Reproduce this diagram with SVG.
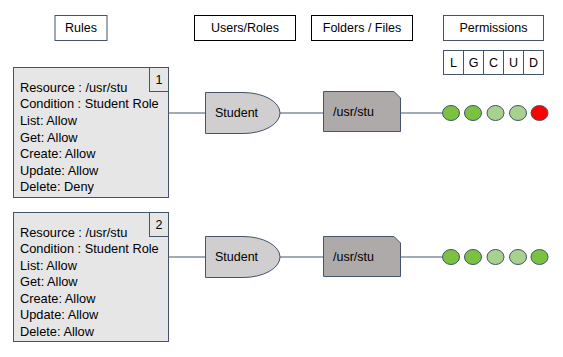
<svg xmlns="http://www.w3.org/2000/svg" width="563" height="357" viewBox="0 0 563 357">
  <style>
    text { font-family: "Liberation Sans", Arial, sans-serif; fill: #000; }
    .hdr { fill: #fff; stroke-width: 1; }
    .hdr-blue { stroke: #44546A; }
    .hdr-black { stroke: #000; }
    .hdr-text { font-size: 12.5px; text-anchor: middle; }
    .rule { fill: #E7E6E6; stroke: #44546A; stroke-width: 1; }
    .rule-text { font-size: 12.8px; }
    .num { fill: #E7E6E6; stroke: #44546A; stroke-width: 1; }
    .num-text { font-size: 12.5px; text-anchor: middle; }
    .role { fill: #D0CECE; stroke: #44546A; stroke-width: 1; }
    .file { fill: #AEAAAA; stroke: #44546A; stroke-width: 1; }
    .node-text { font-size: 12.5px; }
    .conn { stroke: #44546A; stroke-width: 1; fill: none; }
    .dot { stroke: #44546A; stroke-width: 1; }
    .on { fill: #7CC242; }
    .mid { fill: #A9D18E; }
    .off { fill: #FF0000; }
  </style>

  <!-- column headers -->
  <g id="hdr-rules">
    <rect class="hdr hdr-blue" x="55" y="15.5" width="52" height="25"/>
    <text class="hdr-text" x="81" y="32">Rules</text>
  </g>
  <g id="hdr-users">
    <rect class="hdr hdr-black" x="194.5" y="15.5" width="101" height="25"/>
    <text class="hdr-text" x="245" y="32">Users/Roles</text>
  </g>
  <g id="hdr-folders">
    <rect class="hdr hdr-black" x="311.5" y="15.5" width="101" height="25"/>
    <text class="hdr-text" x="362" y="32">Folders / Files</text>
  </g>
  <g id="hdr-permissions">
    <rect class="hdr hdr-blue" x="443.5" y="15.5" width="100" height="25"/>
    <text class="hdr-text" x="493.5" y="32">Permissions</text>
  </g>
  <g id="hdr-lgcud">
    <rect class="hdr hdr-blue" x="443.5" y="50.5" width="20" height="24"/>
    <rect class="hdr hdr-blue" x="463.5" y="50.5" width="20" height="24"/>
    <rect class="hdr hdr-blue" x="483.5" y="50.5" width="20" height="24"/>
    <rect class="hdr hdr-blue" x="503.5" y="50.5" width="20" height="24"/>
    <rect class="hdr hdr-blue" x="523.5" y="50.5" width="20" height="24"/>
    <text class="hdr-text" x="453.5" y="67">L</text>
    <text class="hdr-text" x="473.5" y="67">G</text>
    <text class="hdr-text" x="493.5" y="67">C</text>
    <text class="hdr-text" x="513.5" y="67">U</text>
    <text class="hdr-text" x="533.5" y="67">D</text>
  </g>

  <!-- connectors -->
  <g id="connectors">
    <line class="conn" x1="168" y1="113" x2="205" y2="113"/>
    <line class="conn" x1="280" y1="113" x2="323" y2="113"/>
    <line class="conn" x1="400" y1="113" x2="442" y2="113"/>
    <line class="conn" x1="168" y1="257" x2="205" y2="257"/>
    <line class="conn" x1="280" y1="257" x2="323" y2="257"/>
    <line class="conn" x1="400" y1="257" x2="442" y2="257"/>
  </g>

  <!-- rule 1 -->
  <g id="rule-1">
    <rect class="rule" x="13.5" y="67.5" width="155" height="130"/>
    <rect class="num" x="149.5" y="67.5" width="19" height="24"/>
    <text class="num-text" x="159" y="84">1</text>
    <text class="rule-text" x="20" y="92">Resource : /usr/stu</text>
    <text class="rule-text" x="20" y="108">Condition : Student Role</text>
    <text class="rule-text" x="20" y="125">List: Allow</text>
    <text class="rule-text" x="20" y="142">Get: Allow</text>
    <text class="rule-text" x="20" y="158">Create: Allow</text>
    <text class="rule-text" x="20" y="175">Update: Allow</text>
    <text class="rule-text" x="20" y="191">Delete: Deny</text>
  </g>
  <g id="role-1">
    <path class="role" d="M205.5,92.5 H243 A37,20.5 0 0 1 243,133.5 H205.5 Z"/>
    <text class="node-text" x="215" y="117">Student</text>
  </g>
  <g id="file-1">
    <path class="file" d="M323.5,91.5 H394 L400.5,98 V131.5 H323.5 Z"/>
    <text class="node-text" x="333" y="116">/usr/stu</text>
  </g>
  <g id="perms-1">
    <ellipse class="dot on" cx="451" cy="113" rx="8.5" ry="7.5"/>
    <ellipse class="dot on" cx="473" cy="113" rx="8.5" ry="7.5"/>
    <ellipse class="dot mid" cx="495.5" cy="113" rx="8.5" ry="7.5"/>
    <ellipse class="dot mid" cx="518" cy="113" rx="8.5" ry="7.5"/>
    <ellipse class="dot off" cx="539.5" cy="113" rx="8.5" ry="7.5"/>
  </g>

  <!-- rule 2 -->
  <g id="rule-2">
    <rect class="rule" x="13.5" y="212.5" width="155" height="129"/>
    <rect class="num" x="149.5" y="212.5" width="19" height="24"/>
    <text class="num-text" x="159" y="229">2</text>
    <text class="rule-text" x="20" y="237">Resource : /usr/stu</text>
    <text class="rule-text" x="20" y="253">Condition : Student Role</text>
    <text class="rule-text" x="20" y="270">List: Allow</text>
    <text class="rule-text" x="20" y="286">Get: Allow</text>
    <text class="rule-text" x="20" y="303">Create: Allow</text>
    <text class="rule-text" x="20" y="319">Update: Allow</text>
    <text class="rule-text" x="20" y="336">Delete: Allow</text>
  </g>
  <g id="role-2">
    <path class="role" d="M205.5,236.5 H243 A37,20.5 0 0 1 243,277.5 H205.5 Z"/>
    <text class="node-text" x="215" y="261">Student</text>
  </g>
  <g id="file-2">
    <path class="file" d="M323.5,236.5 H394 L400.5,243 V276.5 H323.5 Z"/>
    <text class="node-text" x="333" y="261">/usr/stu</text>
  </g>
  <g id="perms-2">
    <ellipse class="dot on" cx="451" cy="257" rx="8.5" ry="7.5"/>
    <ellipse class="dot on" cx="473" cy="257" rx="8.5" ry="7.5"/>
    <ellipse class="dot mid" cx="495.5" cy="257" rx="8.5" ry="7.5"/>
    <ellipse class="dot mid" cx="518" cy="257" rx="8.5" ry="7.5"/>
    <ellipse class="dot on" cx="539.5" cy="257" rx="8.5" ry="7.5"/>
  </g>
</svg>
